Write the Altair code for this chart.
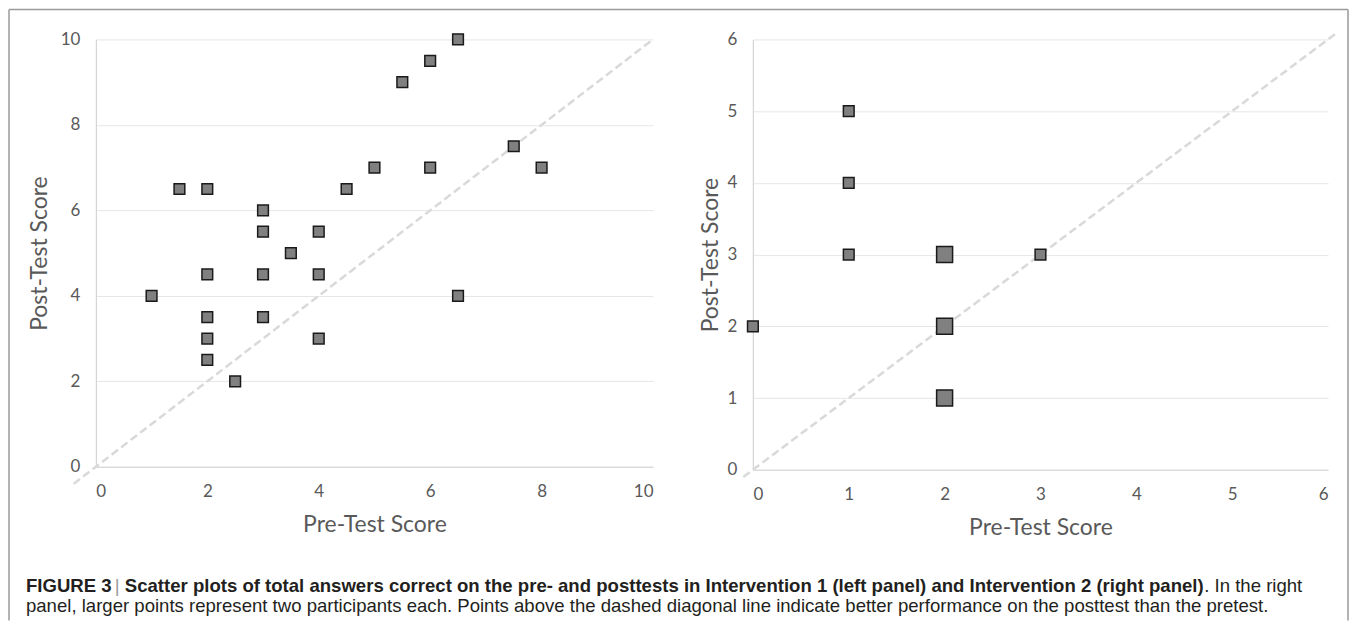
import altair as alt
import pandas as pd

# ---- data ----
left_pre = [1, 1.5, 2, 2, 2, 2, 2, 2.5, 3, 3, 3, 3, 3.5, 4, 4, 4, 4.5, 5, 5.5, 6, 6, 6.5, 6.5, 7.5, 8]
left_post = [4, 6.5, 6.5, 4.5, 3.5, 3, 2.5, 2, 6, 5.5, 4.5, 3.5, 5, 5.5, 4.5, 3, 6.5, 7, 9, 9.5, 7, 10, 4, 7.5, 7]

right_pre = [0, 1, 1, 1, 2, 2, 2, 3]
right_post = [2, 5, 4, 3, 3, 2, 1, 3]
right_count = [1, 1, 1, 1, 2, 2, 2, 1]

left_diag = [-0.4, 10]
right_diag = [-0.1, 6.08]

left_ticks = [0, 2, 4, 6, 8, 10]
right_ticks = [0, 1, 2, 3, 4, 5, 6]

x_title = "Pre-Test Score"
y_title = "Post-Test Score"
cap_fig = "FIGURE 3"
cap_bar = "|"
cap_bold = ("Scatter plots of total answers correct on the pre- and posttests in "
            "Intervention 1 (left panel) and Intervention 2 (right panel)")
cap_tail = ". In the right"
cap_line2 = ("panel, larger points represent two participants each. Points above the dashed "
             "diagonal line indicate better performance on the posttest than the pretest.")

# ---- style ----
AX_FONT = "Lato"
AX_COLOR = "#595959"
DOMAIN_COLOR = "#d4d4d4"
GRID_COLOR = "#e6e6e6"
DIAG_COLOR = "#d9d9d9"
PT_FILL = "#808080"
PT_STROKE = "#1a1a1a"
CAP_FONT = "Liberation Sans"
CAP_SIZE = 18.6
CAP_COLOR = "#231f20"
FRAME = "#9a9a9a"

left_df = pd.DataFrame({"pre": left_pre, "post": left_post})
right_df = pd.DataFrame({"pre": right_pre, "post": right_post, "n": right_count})
ldiag_df = pd.DataFrame({"a": left_diag, "b": left_diag})
rdiag_df = pd.DataFrame({"a": right_diag, "b": right_diag})
one = pd.DataFrame({"k": [0]})


def x_axis(vals):
    return alt.Axis(values=vals, format="d", grid=False, ticks=False,
                    domainColor=DOMAIN_COLOR, domainWidth=1.2, labelFont=AX_FONT,
                    labelFontSize=17, labelColor=AX_COLOR, labelPadding=17,
                    title=x_title, titleFont=AX_FONT, titleFontSize=23,
                    titleFontWeight="normal", titleColor=AX_COLOR, titlePadding=14)


def y_axis(vals, tpad):
    return alt.Axis(values=vals, format="d", grid=True, gridColor=GRID_COLOR,
                    gridWidth=1, ticks=False, domainColor=DOMAIN_COLOR,
                    domainWidth=1.2, labelFont=AX_FONT, labelFontSize=17,
                    labelColor=AX_COLOR, labelPadding=16, title=y_title,
                    titleFont=AX_FONT, titleFontSize=23, titleFontWeight="normal",
                    titleColor=AX_COLOR, titlePadding=tpad)


lx = alt.Scale(domain=[0, 10], nice=False, zero=False)
ly = alt.Scale(domain=[0, 10], nice=False, zero=False)
rx = alt.Scale(domain=[0, 6], nice=False, zero=False)
ry = alt.Scale(domain=[0, 6], nice=False, zero=False)

# ---- left panel ----
l_diag = alt.Chart(ldiag_df).mark_line(color=DIAG_COLOR, strokeWidth=2.5,
                                       strokeDash=[8, 4]).encode(
    x=alt.X("a:Q", scale=lx, axis=x_axis(left_ticks)),
    y=alt.Y("b:Q", scale=ly, axis=y_axis(left_ticks, 9)),
)
l_pts = alt.Chart(left_df).mark_point(shape="square", filled=True, fill=PT_FILL,
                                      stroke=PT_STROKE, strokeWidth=1.5, size=115,
                                      opacity=1).encode(
    x=alt.X("pre:Q", scale=lx),
    y=alt.Y("post:Q", scale=ly),
)

# frame (left, top, right edges) and caption, placed relative to the left plot
fr_left = alt.Chart(one).mark_rule(color=FRAME, strokeWidth=1.5).encode(
    x=alt.value(-87), y=alt.value(-30), y2=alt.value(582))
fr_top = alt.Chart(one).mark_rule(color=FRAME, strokeWidth=1.5).encode(
    x=alt.value(-87), x2=alt.value(1254), y=alt.value(-30))
fr_right = alt.Chart(one).mark_rule(color=FRAME, strokeWidth=1.5).encode(
    x=alt.value(1254), y=alt.value(-30), y2=alt.value(582))


def cap(text, x, y, bold, color=CAP_COLOR):
    return alt.Chart(one).mark_text(text=text, align="left", baseline="alphabetic",
                                    font=CAP_FONT, fontSize=CAP_SIZE,
                                    fontWeight="bold" if bold else "normal",
                                    color=color).encode(
        x=alt.value(x), y=alt.value(y))


caps = [
    cap(cap_fig, -70, 553, True),
    cap(cap_bar, 19, 553, False, "#9a9a9a"),
    cap(cap_bold, 29, 553, True),
    cap(cap_tail, 1110, 553, False),
    cap(cap_line2, -70, 573, False),
]

left = alt.layer(l_diag, l_pts, fr_left, fr_top, fr_right, *caps).properties(
    width=558, height=428)

# ---- right panel ----
r_diag = alt.Chart(rdiag_df).mark_line(color=DIAG_COLOR, strokeWidth=2.5,
                                       strokeDash=[8, 4]).encode(
    x=alt.X("a:Q", scale=rx, axis=x_axis(right_ticks)),
    y=alt.Y("b:Q", scale=ry, axis=y_axis(right_ticks, 5)),
)
r_pts = alt.Chart(right_df).mark_point(shape="square", filled=True, fill=PT_FILL,
                                       stroke=PT_STROKE, strokeWidth=1.5,
                                       opacity=1).encode(
    x=alt.X("pre:Q", scale=rx),
    y=alt.Y("post:Q", scale=ry),
    size=alt.Size("n:Q", scale=alt.Scale(domain=[1, 2], range=[115, 256]), legend=None),
)
right = alt.layer(r_diag, r_pts).properties(width=576, height=431)

chart = alt.hconcat(left, right, spacing=100, bounds="flush").properties(
    padding=0, background="white"
).configure_view(stroke=None)

chart.save("out.html", embed_options={"renderer": "svg", "actions": False})
